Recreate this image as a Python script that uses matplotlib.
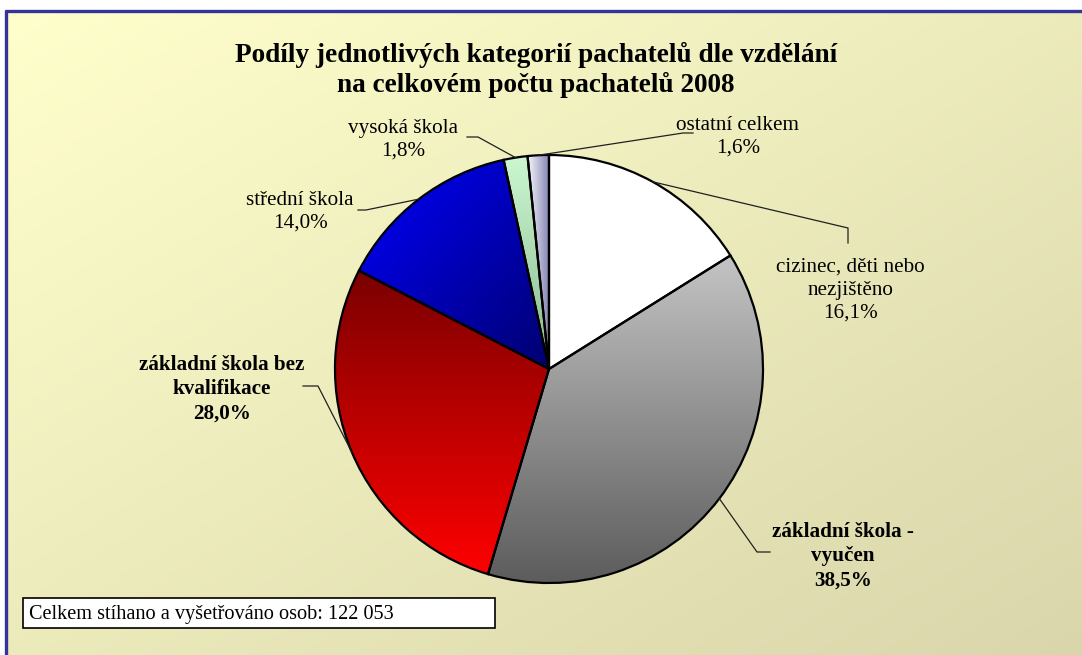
import numpy as np
import matplotlib
matplotlib.use("Agg")
import matplotlib.pyplot as plt
from matplotlib.colors import LinearSegmentedColormap
from matplotlib.patches import Rectangle

# ---- data ----
categories = ["cizinec, děti nebo\nnezjištěno", "základní škola -\nvyučen",
              "základní škola bez\nkvalifikace", "střední škola",
              "vysoká škola", "ostatní celkem"]
values = [16.1, 38.5, 28.0, 14.0, 1.8, 1.6]
value_labels = ["16,1%", "38,5%", "28,0%", "14,0%", "1,8%", "1,6%"]
bold_flags = [False, True, True, False, False, False]
title = "Podíly jednotlivých kategorií pachatelů dle vzdělání\nna celkovém počtu pachatelů 2008"
note = "Celkem stíhano a vyšetřováno osob: 122 053"

W, H = 1082, 655
SERIF = ["Liberation Serif", "DejaVu Serif"]

fig = plt.figure(figsize=(W / 100, H / 100), dpi=100)
ax = fig.add_axes([0, 0, 1, 1])
ax.set_xlim(0, W)
ax.set_ylim(0, H)
ax.set_aspect("auto")
ax.axis("off")

def Y(y):  # image row -> data y
    return H - y

# background: white margin + diagonal gradient panel with blue frame
fx0, fy0 = 5, 10
gx = np.linspace(0, 1, 200)
gy = np.linspace(0, 1, 200)
GX, GY = np.meshgrid(gx, gy)
t = (GX + GY) / 2  # 0 top-left -> 1 bottom-right
c0 = np.array([1.0, 1.0, 0.80])
c1 = np.array([0.85, 0.84, 0.67])
bg = c0[None, None, :] * (1 - t[..., None]) + c1[None, None, :] * t[..., None]
ax.imshow(bg, extent=(fx0, W, Y(H), Y(fy0)), origin="upper", aspect="auto", zorder=0)
ax.plot([fx0 + 1, fx0 + 1], [Y(H), Y(fy0)], color="#333399", lw=2.4, zorder=1, solid_capstyle="butt")
ax.plot([fx0, W], [Y(fy0 + 1), Y(fy0 + 1)], color="#333399", lw=2.4, zorder=1, solid_capstyle="butt")

# ---- pie ----
cx, cy, R = 549, 369, 214
wedges, _ = ax.pie(values, startangle=90, counterclock=False, center=(cx, Y(cy)), radius=R,
                   colors=["white"] * len(values),
                   wedgeprops=dict(edgecolor="black", linewidth=1.6), frame=True)
ax.set_xlim(0, W)
ax.set_ylim(0, H)
ax.set_aspect("auto")
ax.axis("off")

grads = [
    ("v", "#FFFFFF", "#FFFFFF"),
    ("v", "#C4C4C4", "#5C5C5C"),
    ("v", "#7A0000", "#FF0000"),
    ("d", "#0000FF", "#000070"),
    ("v", "#CCF7D0", "#88B890"),
    ("h", "#F4F4FA", "#8080B0"),
]
for w, (mode, ca, cb) in zip(wedges, grads):
    w.set_zorder(3)
    w.set_facecolor("none")
    bb = w.get_path().get_extents(w.get_transform())
    inv = ax.transData.inverted()
    (x0, y0), (x1, y1) = inv.transform([[bb.x0, bb.y0], [bb.x1, bb.y1]])
    n = 256
    if mode == "v":
        arr = np.linspace(0, 1, n)[:, None] * np.ones((1, 2))
    elif mode == "h":
        arr = np.ones((2, 1)) * np.linspace(0, 1, n)[None, :]
    else:
        a, b = np.meshgrid(np.linspace(0, 1, n), np.linspace(0, 1, n))
        arr = (a + b) / 2
    cmap = LinearSegmentedColormap.from_list("g", [ca, cb])
    im = ax.imshow(arr, cmap=cmap, vmin=0, vmax=1, extent=(x0, x1, y0, y1),
                   origin="upper", aspect="auto", zorder=2, interpolation="bilinear")
    im.set_clip_path(w)

# ---- labels ----
label_pos = [(850, 290), (843, 556), (222, 389), (300, 212), (403, 140), (738, 137)]
bends = [
    [(848, 243), (848, 228)],
    [(770, 552), (757, 552)],
    [(303, 386), (318, 386)],
    [(358, 210), (366, 210)],
    [(467, 137), (478, 137)],
    [(693, 133), (683, 133)],
]
for w, cat, vl, b, pos, bd in zip(wedges, categories, value_labels, bold_flags, label_pos, bends):
    mid = np.deg2rad((w.theta1 + w.theta2) / 2)
    px = cx + R * np.cos(mid)
    py = Y(cy) + R * np.sin(mid)
    xs = [bd[0][0], bd[1][0], px]
    ys = [Y(bd[0][1]), Y(bd[1][1]), py]
    ax.plot(xs, ys, color="#202020", lw=0.9, zorder=4)
    ax.text(pos[0], Y(pos[1]), cat + "\n" + vl, ha="center", va="center",
            fontsize=15.2, family=SERIF, fontweight="bold" if b else "normal",
            linespacing=1.28, zorder=5)

# title
ax.text(536, Y(70), title, ha="center", va="center", fontsize=19.6, family=SERIF,
        fontweight="bold", linespacing=1.2, zorder=5)

# note box
ax.add_patch(Rectangle((23, Y(628)), 472, 30, facecolor="white", edgecolor="black",
                       lw=1.2, zorder=5))
ax.text(29, Y(614), note, ha="left", va="center", fontsize=14.6, family=SERIF, zorder=6)

fig.savefig("out.png", dpi=100)
